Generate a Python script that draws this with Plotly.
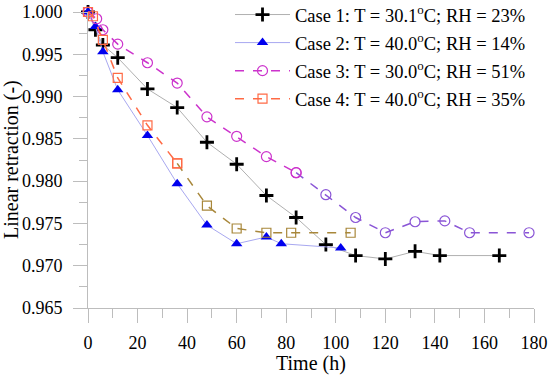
import plotly.graph_objects as go

# ---- data ----
t1 = [0, 3, 6, 12, 24, 36, 48, 60, 72, 84, 96, 108, 120, 132, 142, 166]
v1 = [1.000, 0.9979, 0.9961, 0.9946, 0.9909, 0.9887, 0.9846, 0.9820, 0.9783, 0.9757,
      0.9725, 0.9712, 0.9708, 0.9717, 0.9712, 0.9712]

t2 = [0, 3, 6, 12, 24, 36, 48, 60, 72, 78, 102]
v2 = [1.000, 0.9983, 0.9953, 0.9908, 0.9854, 0.9797, 0.9748, 0.9726, 0.9734, 0.9726, 0.9721]

t3 = [0, 3.5, 6, 12, 24, 36, 48, 60, 72, 84, 96, 108, 120, 132, 144, 154, 178]
v3 = [1.000, 0.9992, 0.9979, 0.9962, 0.9940, 0.9916, 0.9876, 0.9853, 0.9829, 0.9810,
      0.9784, 0.9757, 0.9739, 0.9752, 0.9753, 0.9739, 0.9739]

t4 = [0, 2, 6, 12, 24, 36, 48, 60, 72, 82, 106]
v4 = [1.000, 0.9995, 0.9967, 0.9922, 0.9866, 0.9821, 0.9771, 0.9744, 0.9739, 0.9739, 0.9739]

names = ["Case 1: T = 30.1<sup>o</sup>C; RH = 23%",
         "Case 2: T = 40.0<sup>o</sup>C; RH = 14%",
         "Case 3: T = 30.0<sup>o</sup>C; RH = 51%",
         "Case 4: T = 40.0<sup>o</sup>C; RH = 35%"]

x_title = "Time (h)"
y_title = "Linear retraction (-)"

# colour change index (where the later colour begins)
split3 = 9   # t = 84
split4 = 5   # t = 36

FONT = "Liberation Serif, Times New Roman, serif"
C3a, C3b = "#CC33CC", "#8A55D6"
C4a, C4b = "#FF6A45", "#A8873A"

fig = go.Figure()

fig.add_trace(go.Scatter(
    x=t1, y=v1, mode="lines+markers", name=names[0], legendgroup="g1",
    line=dict(color="#B0B0B0", width=1),
    marker=dict(symbol="cross-thin", size=10, color="black",
                line=dict(color="black", width=2.8)),
    cliponaxis=False))

fig.add_trace(go.Scatter(
    x=t2, y=v2, mode="lines+markers", name=names[1], legendgroup="g2",
    line=dict(color="#A8A8F0", width=1),
    marker=dict(symbol="triangle-up", size=10, color="#0000EE"),
    cliponaxis=False))

# case 3: two colour parts
fig.add_trace(go.Scatter(
    x=t3[split3:], y=v3[split3:], mode="lines+markers", showlegend=False, legendgroup="g3",
    line=dict(color=C3b, width=1.5, dash="dash"),
    marker=dict(symbol="circle-open", size=10,
                color=[C3a] + [C3b] * (len(t3) - split3 - 1), line=dict(width=1.2)),
    cliponaxis=False))
fig.add_trace(go.Scatter(
    x=t3[:split3 + 1], y=v3[:split3 + 1], mode="lines+markers", name=names[2], legendgroup="g3",
    line=dict(color=C3a, width=1.5, dash="dash"),
    marker=dict(symbol="circle-open", size=10, color=C3a, line=dict(width=1.2)),
    cliponaxis=False))

# case 4: two colour parts
fig.add_trace(go.Scatter(
    x=t4[split4:], y=v4[split4:], mode="lines+markers", showlegend=False, legendgroup="g4",
    line=dict(color=C4b, width=1.5, dash="dash"),
    marker=dict(symbol="square-open", size=9,
                color=[C4a] + [C4b] * (len(t4) - split4 - 1), line=dict(width=1.2)),
    cliponaxis=False))
fig.add_trace(go.Scatter(
    x=t4[:split4 + 1], y=v4[:split4 + 1], mode="lines+markers", name=names[3], legendgroup="g4",
    line=dict(color=C4a, width=1.5, dash="dash"),
    marker=dict(symbol="square-open", size=9, color=C4a, line=dict(width=1.2)),
    cliponaxis=False))

axis_common = dict(
    showgrid=False, zeroline=False, showline=True, linecolor="#BDBDBD", linewidth=1,
    ticks="outside", tickcolor="#BDBDBD", ticklen=14, tickwidth=1,
    tickfont=dict(family=FONT, size=18, color="black"),
    mirror=False, automargin=False,
)

fig.update_xaxes(
    range=[0, 180], tick0=0, dtick=20,
    minor=dict(ticks="outside", ticklen=9, tickcolor="#BDBDBD", dtick=10, tick0=0),
    ticklabelstandoff=4,
    **axis_common)
fig.update_yaxes(
    range=[0.965, 1.0], tick0=0.965, dtick=0.005, tickformat=".3f",
    minor=dict(ticks="outside", ticklen=8, tickcolor="#BDBDBD", dtick=0.0025, tick0=0.965),
    ticklabelstandoff=7,
    **axis_common)

fig.add_annotation(text=x_title, xref="paper", yref="paper", x=0.5, y=-0.1875,
                   xanchor="center", yanchor="middle", showarrow=False,
                   font=dict(family=FONT, size=20, color="black"))
fig.add_annotation(text=y_title, xref="paper", yref="paper", x=-0.1726, y=0.5,
                   xanchor="center", yanchor="middle", showarrow=False, textangle=-90,
                   font=dict(family=FONT, size=20, color="black"))

fig.update_layout(
    width=550, height=377,
    margin=dict(l=88, r=16, t=12, b=69, autoexpand=False),
    paper_bgcolor="white", plot_bgcolor="white",
    font=dict(family=FONT, color="black"),
    legend=dict(xref="paper", yref="paper", x=0.3184, y=1.054,
                xanchor="left", yanchor="top",
                font=dict(family=FONT, size=18.5, color="black"),
                bgcolor="rgba(0,0,0,0)", itemwidth=55, tracegroupgap=1,
                traceorder="grouped"),
)

fig.write_html("out.html", config={"displayModeBar": False},
               post_script="document.body.style.margin='0';document.body.style.overflow='hidden';")
